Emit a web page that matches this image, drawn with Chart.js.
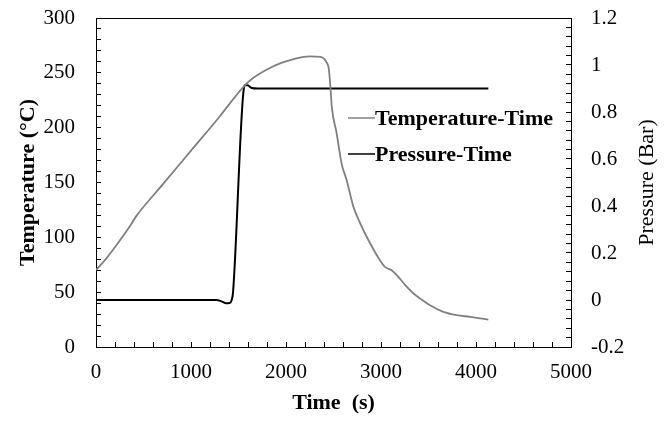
<!DOCTYPE html>
<html>
<head>
<meta charset="utf-8">
<script src="https://cdn.jsdelivr.net/npm/chart.js@4.4.1/dist/chart.umd.min.js"></script>
<style>
  html, body { margin: 0; padding: 0; background: #fff; }
  #wrap { width: 669px; height: 429px; }
</style>
</head>
<body>
<div id="wrap"><canvas id="chart" width="669" height="429"></canvas></div>
<script>
/* values */
const tempTime = [0, 120, 250, 340, 430, 700, 1000, 1300, 1550, 1650, 1800, 1950, 2100, 2250, 2360, 2400, 2430, 2450, 2462, 2470, 2482, 2533, 2586, 2639, 2709, 2780, 2849, 2989, 3042, 3112, 3182, 3260, 3340, 3430, 3516, 3656, 3797, 3937, 4130];
const tempValues = [70, 82, 97, 108, 120, 148, 179, 210, 237, 245, 253, 259, 263, 265, 264.5, 263, 259, 254, 243, 234, 219, 195, 167, 152, 128, 113, 100.5, 79, 73, 70, 64, 56, 49, 43, 38, 32, 29, 27.5, 25];

const pressTime = [0, 1270, 1320, 1370, 1410, 1428, 1442, 1558, 1572, 1600, 1640, 1700, 4130];
const pressValues = [0, 0, -0.006, -0.014, -0.012, 0, 0.03, 0.905, 0.915, 0.913, 0.902, 0.9, 0.9];

const seriesLabels = ["Temperature-Time", "Pressure-Time"];
const seriesColors = ["#808080", "#000000"];

const FONT = "'Liberation Serif', 'Times New Roman', serif";
const tickFont = { family: FONT, size: 21 };
const titleFont = { family: FONT, size: 22, weight: "bold" };

function pairs(xs, ys) { return xs.map((x, i) => ({ x: x, y: ys[i] })); }

/* legend drawn inside the plot, right side */
const insideLegend = {
  id: "insideLegend",
  afterDraw(chart) {
    const { ctx, chartArea } = chart;
    const x0 = chartArea.right - 223;
    const rows = [chartArea.top + 100, chartArea.top + 136];
    ctx.save();
    ctx.font = "bold 22px " + FONT;
    ctx.textBaseline = "middle";
    chart.data.datasets.forEach((ds, i) => {
      const y = rows[i];
      ctx.strokeStyle = ds.borderColor;
      ctx.lineWidth = 1.5;
      ctx.beginPath();
      ctx.moveTo(x0, y);
      ctx.lineTo(x0 + 27, y);
      ctx.stroke();
      ctx.fillStyle = "#000";
      ctx.fillText(ds.label, x0 + 27, y + 1);
    });
    ctx.restore();
  }
};

/* right-hand axis title reads bottom to top */
const rightTitle = {
  id: "rightTitle",
  afterDraw(chart) {
    const { ctx, chartArea } = chart;
    const s = chart.scales.y2;
    ctx.save();
    ctx.translate(s.right - 22, (chartArea.top + chartArea.bottom) / 2);
    ctx.rotate(-Math.PI / 2);
    ctx.font = "22px " + FONT;
    ctx.fillStyle = "#000";
    ctx.textAlign = "center";
    ctx.textBaseline = "middle";
    ctx.fillText("Pressure (Bar)", 0, 0);
    ctx.restore();
  }
};

const inTicks = { display: true, drawOnChartArea: false, drawTicks: true, tickLength: -5, color: "#000", lineWidth: 1 };
const axisBorder = { display: true, color: "#000", width: 1 };

function fixWidth(w) {
  return s => { s.width = w; s.paddingTop = 0; s.paddingBottom = 0; };
}

new Chart(document.getElementById("chart"), {
  type: "line",
  data: {
    datasets: [
      {
        label: seriesLabels[0],
        data: pairs(tempTime, tempValues),
        borderColor: seriesColors[0],
        borderWidth: 1.8,
        pointRadius: 0,
        cubicInterpolationMode: "monotone",
        yAxisID: "y"
      },
      {
        label: seriesLabels[1],
        data: pairs(pressTime, pressValues),
        borderColor: seriesColors[1],
        borderWidth: 2,
        pointRadius: 0,
        cubicInterpolationMode: "monotone",
        yAxisID: "y2"
      }
    ]
  },
  options: {
    responsive: false,
    animation: false,
    layout: { padding: 0 },
    plugins: { legend: { display: false }, tooltip: { enabled: false } },
    scales: {
      x: {
        type: "linear", position: "bottom", min: 0, max: 5000,
        ticks: {
          stepSize: 200, autoSkip: false, maxRotation: 0, minRotation: 0,
          padding: 18, color: "#000", font: tickFont,
          callback: v => (v % 1000 === 0 ? String(v) : "")
        },
        grid: inTicks, border: axisBorder,
        title: { display: true, text: "Time  (s)", color: "#000", font: titleFont, padding: { top: 0, bottom: 12 } },
        afterFit: s => { s.height = 82; }
      },
      xt: {
        type: "linear", position: "top", min: 0, max: 5000,
        ticks: { display: false }, grid: { display: false }, border: axisBorder,
        afterFit: s => { s.height = 18; }
      },
      y: {
        position: "left", min: 0, max: 300,
        ticks: {
          stepSize: 10, autoSkip: false, padding: 26, color: "#000", font: tickFont,
          callback: v => (v % 50 === 0 ? String(v) : "")
        },
        grid: inTicks, border: axisBorder,
        title: { display: true, text: "Temperature (°C)", color: "#000", font: titleFont, padding: { top: 15, bottom: 0 } },
        afterFit: fixWidth(96)
      },
      y2: {
        position: "right", min: -0.2, max: 1.2,
        ticks: {
          stepSize: 0.04, autoSkip: false, padding: 25, color: "#000", font: tickFont,
          callback: v => (Math.abs(v * 5 - Math.round(v * 5)) < 1e-6 ? String(Math.round(v * 10) / 10) : "")
        },
        grid: inTicks, border: axisBorder,
        afterFit: fixWidth(98)
      }
    }
  },
  plugins: [insideLegend, rightTitle]
});
</script>
</body>
</html>
